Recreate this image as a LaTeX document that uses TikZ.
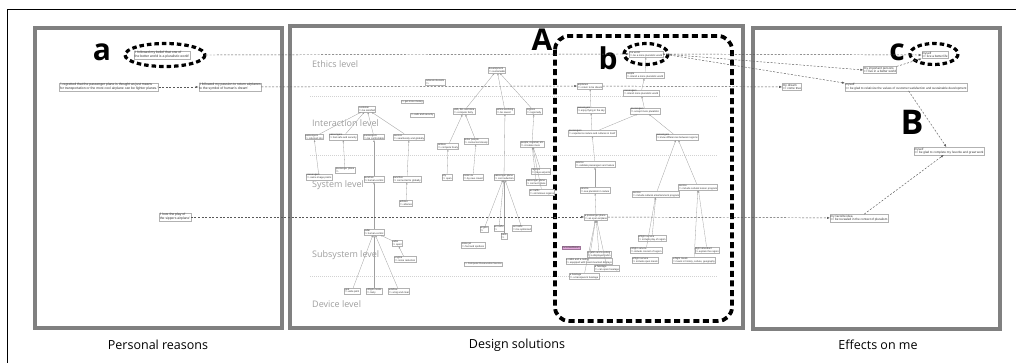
\documentclass[tikz,border=0pt]{standalone}
\usepackage{fontspec}
\setmainfont{Open Sans}
\newfontfamily\arialf{Liberation Sans}
\usetikzlibrary{arrows.meta}
\newcommand\tnyf{\arialf\fontsize{2.5}{2.9}\selectfont}
\newcommand\smlf{\arialf\fontsize{3.4}{3.8}\selectfont}
\newcommand\rgtf{\arialf\fontsize{3.1}{3.6}\selectfont}
\definecolor{panelgray}{HTML}{808080}
\definecolor{pinkbox}{HTML}{E2A6DA}
\tikzset{
  nb/.style={draw=gray!60, fill=white, line width=0.3pt, inner sep=0.5pt, align=left, font=\tnyf, text=black!80},
  lb/.style={nb, font=\smlf},
  rb/.style={nb, font=\rgtf},
  ed/.style={draw=gray!75, line width=0.3pt, -{Latex[length=2.2pt,width=1.6pt]}},
  xd/.style={draw=black!65, line width=0.45pt, dash pattern=on 2pt off 1.6pt, -{Latex[length=3pt,width=2.2pt]}},
  panelbox/.style={draw=panelgray, line width=3.2pt},
  lvl/.style={font=\fontsize{9}{10}\selectfont, text=gray!75, anchor=west, inner sep=0pt},
  bigl/.style={font=\fontsize{30}{32}\selectfont\bfseries, inner sep=0pt},
  caption/.style={font=\fontsize{12.5}{14}\selectfont, inner sep=0pt},
  bigdash/.style={draw=black, line width=3.2pt, dash pattern=on 4.5pt off 3pt},
  lvline/.style={draw=gray!35, line width=0.4pt, dash pattern=on 1pt off 1pt}
}
\begin{document}
\begin{tikzpicture}[x=1pt,y=-1pt]
\useasboundingbox (0,0) rectangle (1016,363);
\fill[white] (0,0) rectangle (1016,363);
% crop edge lines
\draw[black, line width=0.8pt] (7,363) -- (7,9) -- (1016,9);
% panels
\draw[panelbox] (35,28) rectangle (282,328);
\draw[panelbox] (290,26) rectangle (743,328);
\draw[panelbox] (753,28) rectangle (1000,329);
% captions
\node[caption] (capL) at (158,345) {Personal reasons};
\node[caption] (capC) at (517,345) {Design solutions};
\node[caption] (capR) at (878,345) {Effects on me};
% level lines and labels
\draw[lvline] (310,96) -- (717,96);
\draw[lvline] (310,155) -- (717,155);
\draw[lvline] (310,276) -- (717,276);
\node[lvl] (lv1) at (312,64) {Ethics level};
\node[lvl] (lv2) at (312,123) {Interaction level};
\node[lvl] (lv3) at (312,185) {System level};
\node[lvl] (lv4) at (312,255) {Subsystem level};
\node[lvl] (lv5) at (312,304) {Device level};
% big letters
\node[bigl] (LA) at (542,40) {A};
\node[bigl] (La) at (102,52) {a};
\node[bigl] (Lb) at (608,58) {b};
\node[bigl] (Lc) at (897,52) {c};
\node[bigl, font=\fontsize{34}{36}\selectfont\bfseries] (LB) at (912,122) {B};
% big dashed rounded rectangle
\draw[bigdash, line width=3.8pt, dash pattern=on 6pt off 3.6pt, rounded corners=14pt] (555,36) rectangle (732,321);

% ---------- left panel notes ----------
\node[lb] (qa) at (162,55) {'I followed my belief that one of\\the better world is a pluralistic world'};
\coordinate (qaout) at (206,55);
\node[lb] (q1) at (109,87) {'I regretted that the passenger plane is thought as just means\\for transportation or the most cool airplane can be fighter planes.'};
\node[lb] (q2) at (230,87) {'I followed my passion to return airplanes\\to the symbol of human's dream'};
\node[lb] (q3) at (175,217) {'I love the play of\\the sippers airplane'};
\draw[bigdash] (165,55) ellipse [x radius=40, y radius=11.5];

% ---------- center panel ----------
\node[nb] (dev) at (497,70) {development\\=> sustainable};
\node[nb] (rat) at (435,82) {rational interests\\=>};
\node[nb] (mon) at (412,102) {=> get more money};
\node[nb] (cus) at (367,109) {customer\\=> be satisfied};
\node[nb] (saf) at (422,115) {=> safe and security};
\node[nb] (lba) at (464,111) {LBA, IEL and Asia\\=> compete fairly};
\node[nb] (ael) at (505,111) {airline evolving\\=> be saved};
\node[nb] (reg) at (534,111) {regions\\=> regionally};
\node[nb] (pr1) at (314,137) {passengers\\=> returned into};
\node[nb] (pr2) at (343,137) {passengers\\=> feel safe and security};
\node[nb] (pr3) at (374,137) {passengers\\=> be comfortable};
\node[nb] (sv1) at (409,137) {service\\=> seamlessly and globally};
\node[nb] (acf) at (448,146) {airlines\\=> compete freely};
\node[nb] (fos) at (476,141) {foster people\\=> connected closely};
\node[nb] (ppl) at (532,144) {people, regional, etc\\=> circulate more};
\node[nb] (psm) at (319,177) {passengers\\=> same image points};
\node[nb] (ppn) at (345,170) {passenger plane\\=> };
\node[nb] (bhc) at (374,179) {bunches\\=> human-centric};
\node[nb] (bgl) at (407,179) {bunches\\=> connected to globally};
\node[nb] (all) at (406,203) {airlines\\=> alliance};
\node[nb] (cty) at (447,177) {city\\=> open};
\node[nb] (fev) at (473,177) {foster ev\\=> by new crowd};
\node[nb] (ppc) at (504,177) {passenger plane\\=> cost reduction};
\node[nb] (rha) at (541,171) {regions\\=> have airports};
\node[nb] (ppx) at (536,182) {passenger plane\\=> connect plane};
\node[nb] (atr) at (542,192) {air traffic\\=> omnimous regions};
\node[nb] (eng) at (484,229) {engine\\=>};
\node[nb] (at1) at (499,228) {air traffic\\=>};
\node[nb] (fue) at (504,236) {fuels\\=>};
\node[nb] (at2) at (522,228) {air traffic\\=> be optimized};
\node[nb] (njt) at (473,245) {noise jet\\=> fast and spotless};
\node[nb] (crs) at (483,264) {=> Computer Reservation Service};
\node[nb] (rad) at (374,232) {radar\\=> human-centric};
\node[nb] (rqt) at (397,243) {radar\\=> quiet};
\node[nb] (eng2) at (405,259) {engine\\=> noise reduction};
\node[nb] (seat) at (352,291) {seat\\=> wide pitch};
\node[nb] (mea) at (374,291) {inflight meals\\=> tasty};
\node[nb] (win) at (399,291) {window\\=> a big and clear};

\draw[ed] (lba) -- (dev);
\draw[ed] (ael) -- (dev);
\draw[ed] (reg) -- (dev);
\draw[ed] (ppc) -- (ael);
\draw[ed] (ppl) -- (reg);
\draw[ed] (acf) -- (lba);
\draw[ed] (fos) -- (lba);
\draw[ed] (cty) -- (acf);
\draw[ed] (fev) -- (fos);
\draw[ed] (rha) -- (ppl);
\draw[ed] (ppx) -- (ppl);
\draw[ed] (atr) -- (ppl);
\draw[ed] (eng) -- (ppc);
\draw[ed] (at1) -- (ppc);
\draw[ed] (fue) -- (ppc);
\draw[ed] (at2) -- (ppc);
\draw[ed] (pr1) -- (cus);
\draw[ed] (pr2) -- (cus);
\draw[ed] (pr3) -- (cus);
\draw[ed] (sv1) -- (cus);
\draw[ed] (psm) -- (pr1);
\draw[ed] (ppn) -- (pr2);
\draw[ed] (bhc) -- (pr3);
\draw[ed] (bgl) -- (sv1);
\draw[ed] (all) -- (bgl);
\draw[ed] (rad) -- (bhc);
\draw[ed] (seat) -- (rad);
\draw[ed] (mea) -- (rad);
\draw[ed] (win) -- (rad);
\draw[ed] (rqt) -- (rad);
\draw[ed] (eng2) -- (rqt);

% ---------- b region ----------
\node[nb] (bw) at (646,54) {the world\\=> be a more pluralistic world};
\draw[bigdash] (646,54) ellipse [x radius=22, y radius=10.5];
\node[nb] (pin) at (645,75) {people\\=> intend a more pluralistic world};
\node[nb] (air) at (590,86) {airplanes\\=> return to be dream};
\node[nb] (pim) at (641,93) {passengers\\=> intend more pluralistic world};
\node[nb] (pen) at (591,110) {passengers\\=> enjoy flying in the sky};
\node[nb] (pac) at (645,111) {passengers\\=> accept more pluralistic};
\node[nb] (pex) at (592,133) {passengers\\=> experience nature and cultures in itself};
\node[nb] (pkn) at (677,137) {passengers\\=> know differences between regions};
\node[nb] (sva) at (595,164) {service\\=> validate passengers and nature};
\node[nb] (ssp) at (595,190) {service\\=> see pluralism in nature};
\node[nb] (sce) at (656,194) {service\\=> include cultural entertainment program};
\node[nb] (scl) at (698,187) {service\\=> include cultural lesson program};
\node[nb] (pop) at (596,217) {a passenger plane\\=> an open airplane};
\node[nb] (ipl) at (652,238) {inflight service\\=> include play of region};
\node[nb] (ico) at (646,250) {inflight service\\=> include concert of region};
\node[nb] (fat) at (707,250) {flight attendant\\=> explain the region};
\node[nb] (iom) at (645,260) {inflight service\\=> include open meals};
\node[nb] (iml) at (694,260) {inflight meals\\=> learn in history, culture, geography};
\node[nb, fill=pinkbox, draw=pinkbox!70!black] (inc) at (571,248) {Incremeditation};
\node[nb] (cdc) at (599,254) {a cabin and a ceiling\\=> a displayed cabin};
\node[nb] (chm) at (589,261) {a cabin and a ceiling\\=> equipped with head-mounted displays};
\node[nb] (fop) at (607,268) {a fuselage\\=> can open fuselage};
\node[nb] (ftr) at (584,276) {a fuselage\\=> a transparent fuselage};

\draw[ed] (pin) -- (bw);
\draw[ed] (pim) -- (pin);
\draw[ed] (pen) -- (air);
\draw[ed] (pac) -- (pim);
\draw[ed] (pex) -- (pac);
\draw[ed] (pex) -- (pen);
\draw[ed] (pkn) -- (pac);
\draw[ed] (sva) -- (pex);
\draw[ed] (ssp) -- (sva);
\draw[ed] (pop) -- (ssp);
\draw[ed] (cdc) -- (pop);
\draw[ed] (chm) -- (pop);
\draw[ed] (fop) -- (pop);
\draw[ed] (ftr) -- (pop);
\draw[ed] (sce) -- (pkn);
\draw[ed] (scl) -- (pkn);
\draw[ed] (ipl) -- (sce);
\draw[ed] (ico) -- (sce);
\draw[ed] (fat) -- (scl);
\draw[ed] (iml) -- (scl);

% ---------- right panel ----------
\node[rb] (cn) at (935,55) {myself\\=> live a better life};
\draw[bigdash] (934,54) ellipse [x radius=24, y radius=10.5];
\node[rb] (imp) at (880,70) {my important persons\\=> live in a better world};
\node[rb] (drm) at (792,87) {my dream\\=> come true};
\node[rb] (rel) at (906,87) {myself\\=> be glad to relativize the values of customer satisfaction and sustainable development};
\node[rb] (cmp) at (949,151) {myself\\=> be glad to complete my favorite and great work};
\node[rb] (fav) at (859,218) {my favorite idea\\=> be revealed in the context of pluralism};

% ---------- cross-panel dashed links ----------
\draw[xd] (qaout) -- (bw.west);
\draw[xd] (q1) -- (q2);
\draw[xd] (q2) -- (air);
\draw[xd] (air) -- (drm);
\draw[xd] (q3) -- (pop);
\draw[xd] (pop) -- (fav);
\draw[xd] (bw.east) -- (cn.west);
\draw[xd] (bw.east) -- (imp.west);
\draw[xd] (bw.east) -- (rel.north west);
\draw[xd] (imp.north east) -- (cn.south west);
\draw[xd] (rel) -- (cmp);
\draw[xd] (fav) -- (cmp);
\end{tikzpicture}
\end{document}
